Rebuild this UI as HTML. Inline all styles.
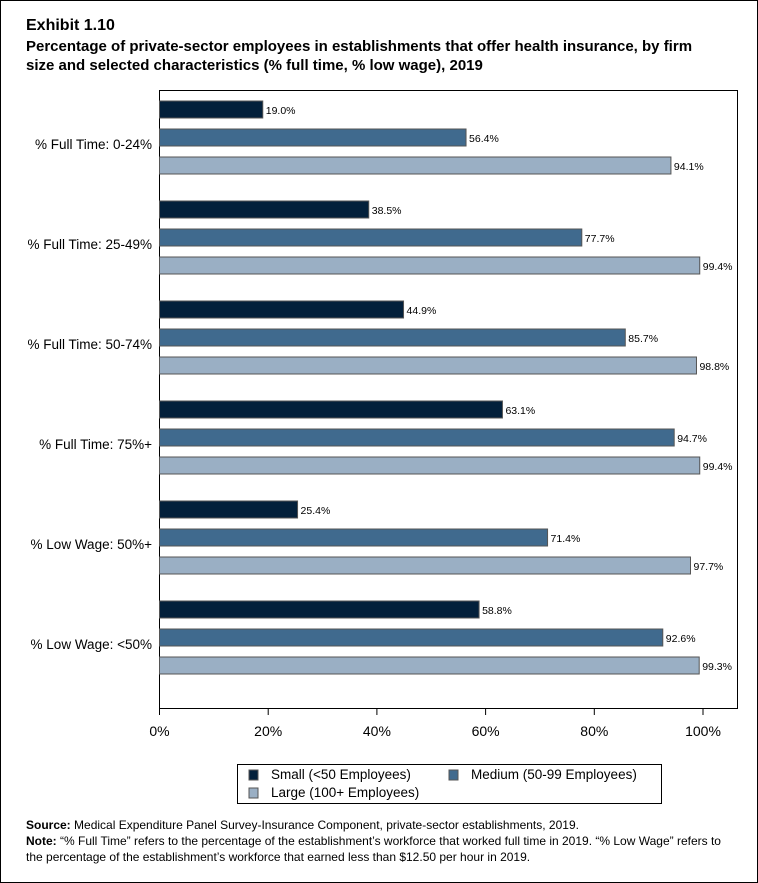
<!DOCTYPE html>
<html><head><meta charset="utf-8"><style>
body{margin:0;background:#fff;font-family:"Liberation Sans",Arial,sans-serif;}
#frame{position:absolute;left:0;top:0;width:756px;height:881px;border:1px solid #000;}
.t{position:absolute;left:26px;font-weight:bold;color:#000;font-size:15px;line-height:19px;}
.foot{position:absolute;left:26px;top:817px;font-size:12px;line-height:16px;width:700px;}
</style></head><body>
<div id="frame"></div>
<div class="t" style="top:16px;font-size:16px">Exhibit 1.10</div>
<div class="t" style="top:37px;width:690px">Percentage of private-sector employees in establishments that offer health insurance, by firm size and selected characteristics (% full time, % low wage), 2019</div>
<svg id="c" width="758" height="883" style="position:absolute;left:0;top:0"></svg>
<div class="foot"><b>Source:</b> Medical Expenditure Panel Survey-Insurance Component, private-sector establishments, 2019.<br><b>Note:</b> “% Full Time” refers to the percentage of the establishment’s workforce that worked full time in 2019. “% Low Wage” refers to the percentage of the establishment’s workforce that earned less than $12.50 per hour in 2019.</div>
<script>
const categories=["% Full Time: 0-24%","% Full Time: 25-49%","% Full Time: 50-74%","% Full Time: 75%+","% Low Wage: 50%+","% Low Wage: <50%"];
const small=[19.0,38.5,44.9,63.1,25.4,58.8];
const medium=[56.4,77.7,85.7,94.7,71.4,92.6];
const large=[94.1,99.4,98.8,99.4,97.7,99.3];
const ticks=[0,20,40,60,80,100];
const seriesNames=["Small (<50 Employees)","Medium (50-99 Employees)","Large (100+ Employees)"];
const colors=["#03203b","#406a8e","#9aafc4"];
const NS="http://www.w3.org/2000/svg";
const svg=document.getElementById('c');
function mk(tag,attrs){const e=document.createElementNS(NS,tag);for(const k in attrs)e.setAttribute(k,attrs[k]);svg.appendChild(e);return e;}
const X0=159.5,X1=703,plotTop=91,groupH=100;
const x=v=>X0+(X1-X0)*v/100;
const yBar=(g,s)=>plotTop+10+g*groupH+s*28;
let box=mk('rect',{x:159.5,y:90.5,width:578,height:618,fill:'none',stroke:'#000','stroke-width':1});


const series=[small,medium,large];
categories.forEach((c,g)=>{
  let t=mk('text',{x:152,y:plotTop+10+g*groupH+48,'text-anchor':'end','font-size':13.5});
  t.textContent=c;
  
  
  series.forEach((arr,s)=>{
    const y=yBar(g,s);
    let r=mk('rect',{x:X0,y:y,width:x(arr[g])-X0,height:17,fill:colors[s],stroke:'#555','stroke-width':1});
    
    
    let l=mk('text',{x:x(arr[g])+3,y:y+13,'font-size':10.5});
    l.textContent=arr[g].toFixed(1)+'%';
    
    
  });
});
ticks.forEach(v=>{
  let tk=mk('line',{x1:x(v),x2:x(v),y1:708,y2:715,stroke:'#000'});
  
  
  let t=mk('text',{x:x(v),y:736,'text-anchor':'middle','font-size':14});
  t.textContent=v+'%';
  
  
});
let lg=mk('rect',{x:237.5,y:764.5,width:424,height:39,fill:'#fff',stroke:'#000'});


const lpos=[[249,779],[449,779],[249,797]];
seriesNames.forEach((n,i)=>{
  let sw=mk('rect',{x:lpos[i][0],y:lpos[i][1]-9,width:9,height:10,fill:colors[i],stroke:'#555'});
  
  
  let t=mk('text',{x:lpos[i][0]+22,y:lpos[i][1],'font-size':13.5});
  t.textContent=n;
  
  
});
</script>
</body></html>
